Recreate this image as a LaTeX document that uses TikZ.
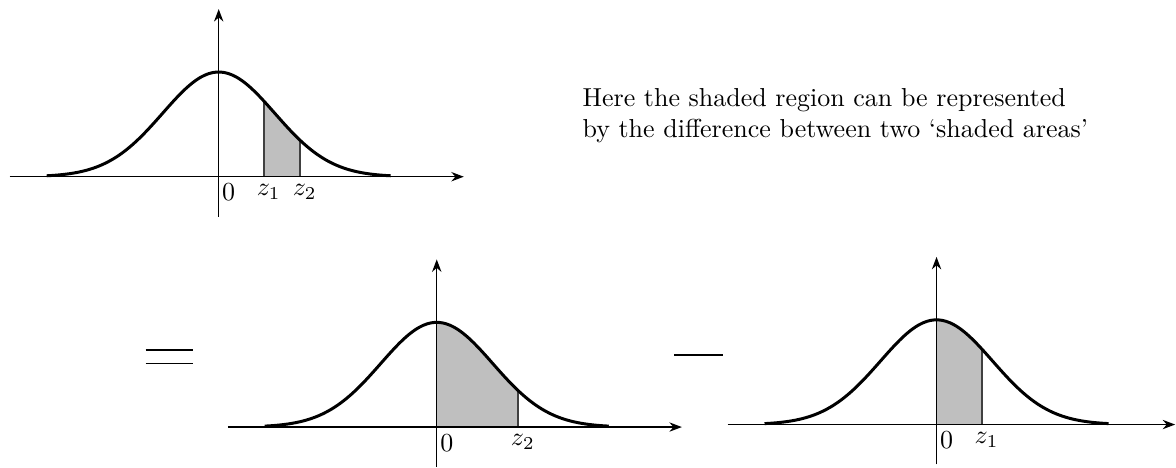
\documentclass[tikz,border=0pt]{standalone}
\usepackage{amsmath,amssymb}
\usetikzlibrary{arrows.meta}
\definecolor{BellInk}{gray}{0.0}
\definecolor{BellEdge}{gray}{0.25}
\definecolor{BellShade}{gray}{0.75}
\tikzset{
    bell/diagram/.style={
        font=\normalsize,
        line cap=butt,
        line join=round,
        every node/.style={inner sep=2pt}
    },
    bell/axis/.style={
        draw=BellInk, line width=0.55pt,
        -{Stealth[length=4.8pt, width=3.6pt]}
    },
    bell/curve/.style={draw=BellInk, line width=1.15pt},
    bell/area/.style={fill=BellShade, draw=none},
    bell/edge/.style={draw=BellEdge, line width=0.55pt},
    bell/tick/.style={anchor=north, inner sep=1pt, yshift=-1.7pt},
    bell/sign/.style={draw=BellInk, line width=0.6pt},
    bell/note/.style={anchor=north west, inner sep=0pt, align=left}
}

\begin{document}
\begin{tikzpicture}[bell/diagram]
    \useasboundingbox (0,0) rectangle (15.911,6.319);
    % upper curve: the region between z_1 and z_2
    \begin{scope}[shift={(2.959cm,3.928cm)}, x=0.758cm, y=1.4166cm]
        \fill[bell/area] (0.809,0) -- plot[domain=0.809:1.452, samples=30, smooth]
            (\x,{exp(-0.5*(\x)^2)}) -- (1.452,0) -- cycle;
        \draw[bell/edge] (0.809,0) -- (0.809,0.721);
        \draw[bell/edge] (1.452,0) -- (1.452,0.3485);
        \draw[bell/axis] (-3.73,0) -- (4.375,0);
        \draw[bell/axis] (0,-0.381) -- (0,1.601);
        \draw[bell/curve, domain=-3.07:3.07, samples=90, smooth]
            plot (\x,{exp(-0.5*(\x)^2)});
        \node[bell/tick] (zeroa) at (0.179,0) {$0$};
        \node[bell/tick] (zonea) at (0.893,0) {$z_1$};
        \node[bell/tick] (ztwoa) at (1.536,0) {$z_2$};
    \end{scope}
    \node[bell/note] (note) at (7.875,5.132)
        {Here the shaded region can be represented\\
         by the difference between two `shaded areas'};
    % equals sign
    \draw[bell/sign] (1.971,1.583) -- (2.615,1.583);
    \draw[bell/sign] (1.971,1.403) -- (2.615,1.403);
    \begin{scope}[shift={(5.909cm,0.541cm)}, x=0.758cm, y=1.4166cm]
        \fill[bell/area] (0,0) -- plot[domain=0:1.452, samples=40, smooth]
            (\x,{exp(-0.5*(\x)^2)}) -- (1.452,0) -- cycle;
        \draw[bell/edge] (1.452,0) -- (1.452,0.3485);
        \draw[bell/axis] (-3.73,0) -- (4.375,0);
        \draw[bell/axis] (0,-0.381) -- (0,1.601);
        \draw[bell/curve, domain=-3.07:3.07, samples=90, smooth]
            plot (\x,{exp(-0.5*(\x)^2)});
        \node[bell/tick] (zerob) at (0.179,0) {$0$};
        \node[bell/tick] (ztwob) at (1.536,0) {$z_2$};
    \end{scope}
    % minus sign
    \draw[bell/sign, line width=0.8pt] (9.119,1.515) -- (9.786,1.515);
    \begin{scope}[shift={(12.671cm,0.575cm)}, x=0.758cm, y=1.4166cm]
        \fill[bell/area] (0,0) -- plot[domain=0:0.809, samples=30, smooth]
            (\x,{exp(-0.5*(\x)^2)}) -- (0.809,0) -- cycle;
        \draw[bell/edge] (0.809,0) -- (0.809,0.721);
        \draw[bell/axis] (-3.73,0) -- (4.259,0);
        \draw[bell/axis] (0,-0.381) -- (0,1.601);
        \draw[bell/curve, domain=-3.07:3.07, samples=90, smooth]
            plot (\x,{exp(-0.5*(\x)^2)});
        \node[bell/tick] (zeroc) at (0.179,0) {$0$};
        \node[bell/tick] (zonec) at (0.893,0) {$z_1$};
    \end{scope}
\end{tikzpicture}
\end{document}
